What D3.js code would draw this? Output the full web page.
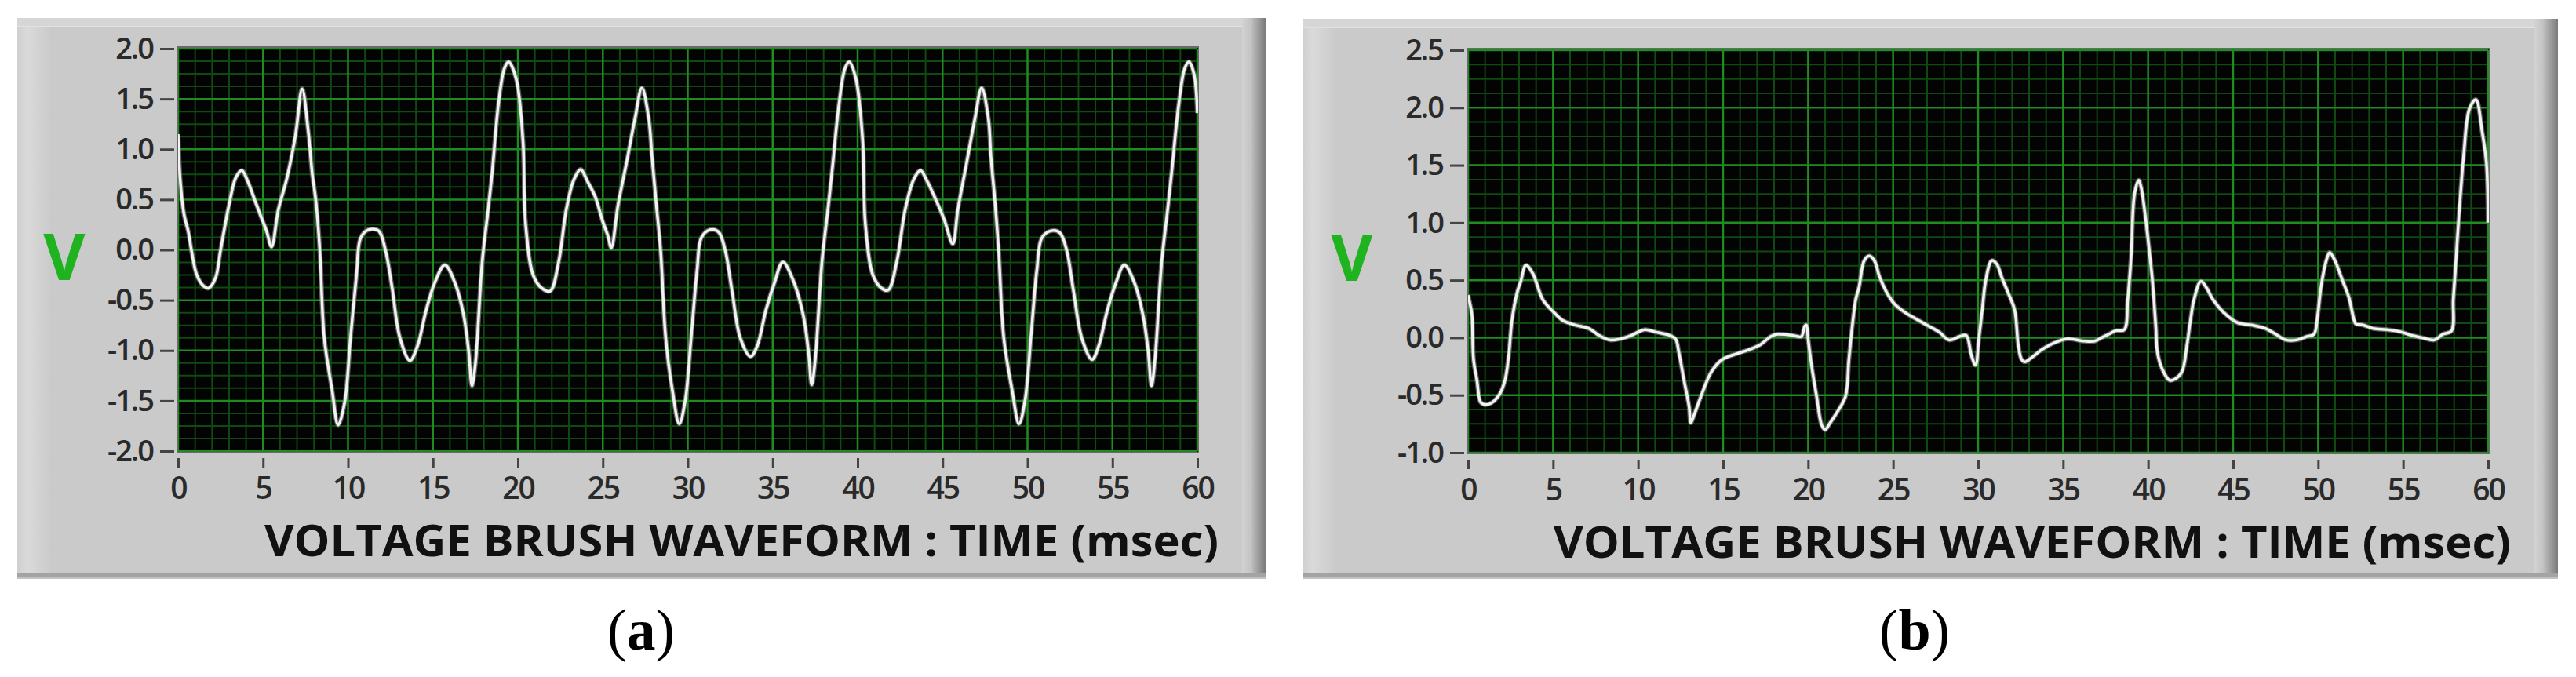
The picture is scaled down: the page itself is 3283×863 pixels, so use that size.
<!DOCTYPE html>
<html><head><meta charset="utf-8">
<script src="https://cdn.jsdelivr.net/npm/d3@7"></script>
<style>body{margin:0;background:#fff;} svg{display:block}</style>
</head><body><svg id="c" width="3283" height="863"></svg>
<script>
// ---------- DATA ----------
const timeTicks = [0,5,10,15,20,25,30,35,40,45,50,55,60];
const voltTicksA = [2.0,1.5,1.0,0.5,0.0,-0.5,-1.0,-1.5,-2.0];
const voltTicksB = [2.5,2.0,1.5,1.0,0.5,0.0,-0.5,-1.0];
const axisTitle = "VOLTAGE BRUSH WAVEFORM : TIME (msec)";
const unitLabel = "V";
const captionLetters = ["a","b"];

// Panel (a): time (ms) and voltage (V)
const timeA = [0,0.12,0.35,0.6,0.8,1.1,1.5,1.8,2.2,2.5,3.0,3.4,3.75,4.1,4.5,4.9,5.2,5.5,5.9,6.4,6.9,7.3,7.66,7.9,8.1,8.34,8.6,9.06,9.42,9.8,10.15,10.5,10.75,11.2,11.8,12.2,12.6,13.05,13.65,14.1,14.6,15.1,15.7,16.3,16.8,17.1,17.3,17.5,17.9,18.25,18.5,18.85,19.2,19.45,19.9,20.3,20.45,20.9,21.4,21.9,22.4,22.85,23.3,23.7,24.1,24.55,25.0,25.3,25.5,25.9,26.4,26.9,27.3,27.7,27.9,28.15,28.4,28.7,29.1,29.5,29.85,30.2,30.55,30.8,31.3,31.8,32.2,32.6,33.1,33.7,34.1,34.6,35.1,35.6,36.2,36.8,37.1,37.3,37.5,37.9,38.25,38.5,38.9,39.25,39.5,39.9,40.3,40.45,40.9,41.4,41.8,42.3,42.8,43.3,43.7,44.1,44.6,45.1,45.6,45.9,46.4,46.9,47.3,47.7,47.85,48.1,48.3,48.6,49.1,49.5,49.85,50.2,50.55,50.85,51.4,51.9,52.3,52.7,53.2,53.8,54.2,54.7,55.2,55.7,56.3,56.8,57.1,57.3,57.5,57.9,58.25,58.5,58.9,59.25,59.5,59.8,60.0];
const voltA = [1.15,0.7,0.35,0.18,-0.02,-0.25,-0.36,-0.38,-0.28,0.0,0.45,0.72,0.79,0.68,0.5,0.32,0.19,0.03,0.4,0.71,1.13,1.6,1.18,0.75,0.5,0.0,-0.87,-1.39,-1.74,-1.52,-0.87,-0.25,0.12,0.2,0.19,0.0,-0.38,-0.87,-1.1,-0.95,-0.6,-0.33,-0.15,-0.33,-0.64,-1.0,-1.35,-1.13,-0.12,0.4,0.79,1.44,1.8,1.87,1.7,1.08,0.27,-0.25,-0.38,-0.41,-0.12,0.4,0.7,0.8,0.68,0.53,0.28,0.14,0.02,0.45,0.87,1.31,1.61,1.31,0.92,0.45,0.0,-0.87,-1.4,-1.73,-1.5,-0.87,-0.2,0.12,0.2,0.18,0.0,-0.4,-0.88,-1.06,-0.95,-0.6,-0.33,-0.12,-0.3,-0.65,-1.0,-1.34,-1.1,-0.12,0.4,0.79,1.44,1.8,1.87,1.7,1.08,0.27,-0.25,-0.38,-0.4,-0.12,0.4,0.7,0.79,0.68,0.5,0.3,0.06,0.4,0.85,1.3,1.61,1.3,0.92,0.45,0.0,-0.87,-1.4,-1.73,-1.5,-0.87,-0.2,0.12,0.19,0.17,0.0,-0.4,-0.88,-1.09,-0.95,-0.6,-0.33,-0.15,-0.33,-0.65,-1.0,-1.35,-1.1,-0.12,0.4,0.79,1.44,1.8,1.87,1.75,1.36];

// Panel (b): time (ms) and voltage (V)
const timeB = [0,0.1,0.22,0.32,0.52,0.73,0.94,1.35,1.86,2.17,2.38,2.58,2.9,3.1,3.4,3.8,4.4,5.05,5.57,6.3,7.1,7.7,8.35,8.97,9.6,10.4,11.0,11.85,12.2,12.4,12.7,13.0,13.1,13.3,13.7,14.3,14.95,15.8,16.6,17.2,17.8,18.2,19.1,19.6,19.8,19.9,20.0,20.2,20.5,20.8,21.0,21.3,21.7,22.2,22.4,22.6,22.8,23.0,23.3,23.6,23.9,24.2,24.6,25.1,25.8,26.5,27.1,27.7,28.3,28.9,29.3,29.6,29.85,30.05,30.25,30.45,30.8,31.1,31.4,31.74,32.15,32.36,32.56,32.76,33.17,33.79,34.4,35.22,36.25,36.86,37.27,37.68,38.09,38.6,38.8,39.0,39.2,39.45,39.6,39.8,40.0,40.25,40.45,40.55,40.85,41.26,41.57,41.98,42.29,42.49,42.7,43.1,43.41,43.82,44.44,45.26,46.08,46.9,47.5,48.12,48.74,49.35,49.76,49.97,50.17,50.48,50.68,50.99,51.4,51.81,52.12,52.22,52.63,53.24,54.06,54.88,55.5,56.11,56.83,57.34,57.85,57.95,58.06,58.2,58.56,58.9,59.28,59.65,59.9,60.0];
const voltB = [0.37,0.3,0.21,-0.19,-0.37,-0.56,-0.58,-0.57,-0.49,-0.37,-0.17,0.15,0.4,0.49,0.63,0.56,0.33,0.22,0.15,0.11,0.08,0.02,-0.02,-0.01,0.02,0.07,0.05,0.02,-0.01,-0.13,-0.37,-0.6,-0.74,-0.67,-0.51,-0.3,-0.19,-0.14,-0.1,-0.06,0.01,0.03,0.02,0.01,0.1,0.11,-0.01,-0.24,-0.51,-0.76,-0.8,-0.74,-0.65,-0.51,-0.19,0.1,0.33,0.44,0.67,0.71,0.67,0.53,0.4,0.29,0.21,0.15,0.1,0.05,-0.02,0.01,0.02,-0.15,-0.24,0.0,0.25,0.5,0.67,0.64,0.52,0.4,0.24,-0.06,-0.19,-0.21,-0.17,-0.1,-0.05,-0.01,-0.03,-0.03,0.0,0.03,0.06,0.07,0.33,0.7,1.25,1.37,1.3,1.1,0.85,0.5,0.1,-0.13,-0.28,-0.37,-0.36,-0.3,-0.06,0.15,0.33,0.49,0.44,0.33,0.22,0.13,0.11,0.08,0.03,-0.02,-0.02,0.01,0.03,0.19,0.44,0.67,0.74,0.67,0.51,0.35,0.15,0.12,0.11,0.08,0.07,0.05,0.02,0.0,-0.02,0.03,0.06,0.33,0.56,0.88,1.58,1.99,2.07,1.79,1.52,1.0];

// ---------- DRAWING ----------
const svg = d3.select("#c");
const defs = svg.append("defs");
const rg = defs.append("linearGradient").attr("id","rightGrad").attr("x1","0").attr("x2","1").attr("y1","0").attr("y2","0");
rg.append("stop").attr("offset","0").attr("stop-color","#d3d3d3");
rg.append("stop").attr("offset","0.35").attr("stop-color","#c4c4c4");
rg.append("stop").attr("offset","1").attr("stop-color","#7a7a7a");
const lg = defs.append("linearGradient").attr("id","leftGrad").attr("x1","0").attr("x2","1").attr("y1","0").attr("y2","0");
lg.append("stop").attr("offset","0").attr("stop-color","#cfcfcf");
lg.append("stop").attr("offset","0.3").attr("stop-color","#dadada");
lg.append("stop").attr("offset","1").attr("stop-color","#cbcbcb");

function panel(cfg, idx) {
  const f = cfg.frame, p = cfg.plot;
  const g = svg.append("g");
  // frame
  g.append("rect").attr("x",f.x0).attr("y",f.y0).attr("width",f.x1-f.x0).attr("height",f.y1-f.y0).attr("fill","#cacaca");
  g.append("rect").attr("x",f.x0).attr("y",f.y0).attr("width",42).attr("height",f.y1-f.y0).attr("fill","url(#leftGrad)");
  g.append("rect").attr("x",f.x0).attr("y",f.y0).attr("width",f.x1-f.x0).attr("height",11).attr("fill","#d6d6d6");
  g.append("rect").attr("x",f.x0).attr("y",f.y0+10).attr("width",f.x1-f.x0).attr("height",2).attr("fill","#e2e2e2");
  g.append("rect").attr("x",f.x1-30).attr("y",f.y0).attr("width",30).attr("height",f.y1-f.y0).attr("fill","url(#rightGrad)");
  g.append("rect").attr("x",f.x0).attr("y",f.y1-7).attr("width",f.x1-f.x0).attr("height",5).attr("fill","#a3a3a3");
  g.append("rect").attr("x",f.x0).attr("y",f.y1-2).attr("width",f.x1-f.x0).attr("height",2).attr("fill","#c2c2c2");

  const x = d3.scaleLinear().domain([0,60]).range([p.x0,p.x1]);
  const y = d3.scaleLinear().domain(cfg.yDomain).range([p.y1,p.y0]);

  // plot background
  g.append("rect").attr("x",p.x0-2).attr("y",p.y0-3).attr("width",p.x1-p.x0+4).attr("height",p.y1-p.y0+5).attr("fill","#6a6a6a");
  g.append("rect").attr("x",p.x0).attr("y",p.y0-1).attr("width",p.x1-p.x0+1).attr("height",p.y1-p.y0+2).attr("fill","#020302");

  const clipId = "clip"+idx;
  defs.append("clipPath").attr("id",clipId).append("rect").attr("x",p.x0).attr("y",p.y0-1).attr("width",p.x1-p.x0+1).attr("height",p.y1-p.y0+2);
  const pg = g.append("g").attr("clip-path",`url(#${clipId})`);

  // grid
  const minorX = d3.range(0,61,1).filter(v=>v%5!==0);
  const [ylo,yhi] = cfg.yDomain;
  const minorY = d3.range(Math.round(ylo*8), Math.round(yhi*8)+1).map(v=>v/8).filter(v=>Math.abs(v*2-Math.round(v*2))>1e-6);
  pg.selectAll(".mx").data(minorX).join("line").attr("x1",d=>x(d)).attr("x2",d=>x(d)).attr("y1",p.y0).attr("y2",p.y1).attr("stroke","#0f4a10").attr("stroke-width",2);
  pg.selectAll(".my").data(minorY).join("line").attr("y1",d=>y(d)).attr("y2",d=>y(d)).attr("x1",p.x0).attr("x2",p.x1).attr("stroke","#0f4a10").attr("stroke-width",2);
  pg.selectAll(".Mx").data(timeTicks).join("line").attr("x1",d=>x(d)).attr("x2",d=>x(d)).attr("y1",p.y0).attr("y2",p.y1).attr("stroke","#1f8c22").attr("stroke-width",2.5);
  pg.selectAll(".My").data(cfg.yTicks).join("line").attr("y1",d=>y(d)).attr("y2",d=>y(d)).attr("x1",p.x0).attr("x2",p.x1).attr("stroke","#1f8c22").attr("stroke-width",2.5);

  // waveform
  const pts = d3.zip(cfg.time, cfg.volt);
  const line = d3.line().x(d=>x(d[0])).y(d=>y(d[1])).curve(d3.curveCatmullRom.alpha(0.5));
  pg.append("path").datum(pts).attr("d",line).attr("fill","none").attr("stroke","#9a9a9a").attr("stroke-width",6).attr("stroke-linejoin","round").attr("opacity",0.6);
  pg.append("path").datum(pts).attr("d",line).attr("fill","none").attr("stroke","#f2f2f2").attr("stroke-width",3.5).attr("stroke-linejoin","round");

  // axes
  const yAxis = d3.axisLeft(y).tickValues(cfg.yTicks).tickSize(18).tickPadding(9).tickFormat(d=>d.toFixed(1));
  const ya = g.append("g").attr("transform",`translate(${p.x0-5},0)`).call(yAxis);
  ya.select(".domain").remove();
  ya.selectAll(".tick line").attr("stroke","#444").attr("stroke-width",3);
  ya.selectAll(".tick text").attr("fill","#2a2a2a").style("font-family","'Open Sans', sans-serif").style("font-size","38px").style("font-weight","600").style("letter-spacing","-2px");

  const xAxis = d3.axisBottom(x).tickValues(timeTicks).tickSize(12).tickPadding(12).tickFormat(d=>String(d));
  const xa = g.append("g").attr("transform",`translate(0,${p.y1+9})`).call(xAxis);
  xa.select(".domain").remove();
  xa.selectAll(".tick line").attr("stroke","#444").attr("stroke-width",3);
  xa.selectAll(".tick text").attr("fill","#2a2a2a").style("font-family","'Open Sans', sans-serif").style("font-size","39px").style("font-weight","600").style("letter-spacing","-2px");

  // unit label
  g.append("text").attr("x",cfg.vx).attr("y",cfg.vy).attr("text-anchor","middle").attr("fill","#20b320")
    .style("font-family","'Open Sans', sans-serif").style("font-size","82px").style("font-weight","700").text(unitLabel);

  // axis title
  g.append("text").attr("x",cfg.tx0).attr("y",cfg.ty).attr("textLength",cfg.tx1-cfg.tx0).attr("lengthAdjust","spacingAndGlyphs")
    .attr("fill","#111").style("font-family","'Open Sans', sans-serif").style("font-size","55px").style("font-weight","700").text(axisTitle);

  // caption
  const cap = svg.append("text").attr("x",cfg.cx).attr("y",828).attr("text-anchor","middle").attr("fill","#000")
    .style("font-family","'Liberation Serif', serif").style("font-size","74px");
  cap.append("tspan").text("(");
  cap.append("tspan").style("font-weight","700").text(cfg.letter);
  cap.append("tspan").text(")");
}

panel({frame:{x0:22,y0:23,x1:1613,y1:738}, plot:{x0:227,x1:1526,y0:62,y1:575}, yDomain:[-2,2], yTicks:voltTicksA,
       time:timeA, volt:voltA, vx:82, vy:357, tx0:337, tx1:1553, ty:709, cx:817, letter:captionLetters[0]}, 0);
panel({frame:{x0:1660,y0:24,x1:3260,y1:738}, plot:{x0:1871,x1:3171,y0:64,y1:577}, yDomain:[-1,2.5], yTicks:voltTicksB,
       time:timeB, volt:voltB, vx:1723, vy:358, tx0:1980, tx1:3200, ty:711, cx:2440, letter:captionLetters[1]}, 1);
</script></body></html>
